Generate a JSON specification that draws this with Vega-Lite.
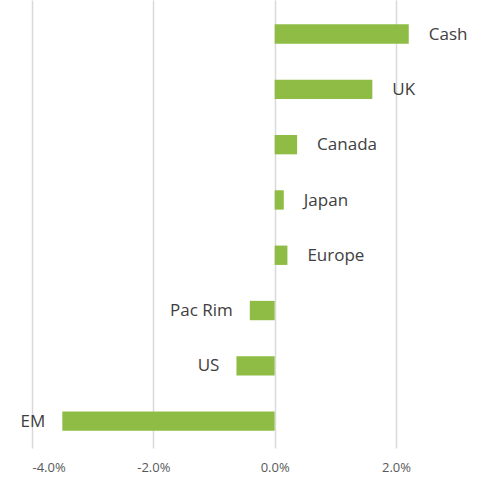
{
  "$schema": "https://vega.github.io/schema/vega-lite/v6.json",
  "autosize": "none",
  "padding": {"left": 32, "top": 0, "right": 0, "bottom": 29},
  "width": 455,
  "height": 448,
  "background": "white",
  "config": {"view": {"stroke": null}, "font": "Open Sans"},
  "data": {"values": [
    {"region": "Cash", "value": 0.0221},
    {"region": "UK", "value": 0.0161},
    {"region": "Canada", "value": 0.0037},
    {"region": "Japan", "value": 0.0015},
    {"region": "Europe", "value": 0.0021},
    {"region": "Pac Rim", "value": -0.0041},
    {"region": "US", "value": -0.0063},
    {"region": "EM", "value": -0.035}
  ]},
  "encoding": {
    "y": {"field": "region", "type": "nominal", "sort": null,
      "scale": {"paddingInner": 0.65, "paddingOuter": 0.3755},
      "axis": null},
    "x": {"field": "value", "type": "quantitative",
      "scale": {"domain": [-0.04, 0.035], "nice": false, "zero": false},
      "axis": {"values": [-0.04, -0.02, 0, 0.02], "format": ".1%", "title": null,
        "labelExpr": "replace(datum.label, '\u2212', '-')",
        "domain": false, "ticks": false, "grid": true, "gridColor": "#d9d9d9", "gridWidth": 1.5,
        "labelFontSize": 13, "labelColor": "#595959", "labelPadding": 13, "labelFont": "Open Sans"}}
  },
  "layer": [
    {"mark": {"type": "bar", "color": "#8fbc44", "yOffset": 3.6}},
    {"transform": [{"filter": "datum.value >= 0"}],
     "mark": {"type": "text", "align": "left", "baseline": "middle", "dx": 20, "yOffset": 4.2, "fontSize": 17, "color": "#404040"},
     "encoding": {"text": {"field": "region"}}},
    {"transform": [{"filter": "datum.value < 0"}],
     "mark": {"type": "text", "align": "right", "baseline": "middle", "dx": -17, "yOffset": 4.2, "fontSize": 17, "color": "#404040"},
     "encoding": {"text": {"field": "region"}}}
  ]
}
